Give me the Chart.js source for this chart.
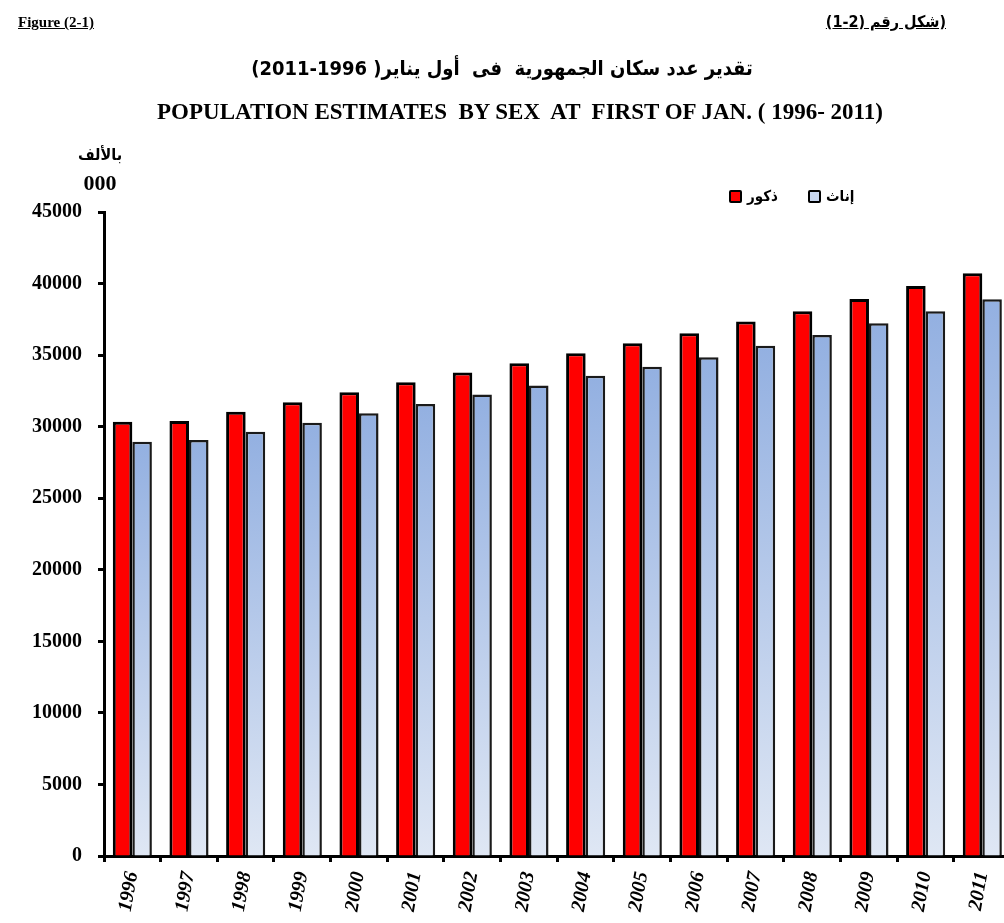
<!DOCTYPE html>
<html>
<head>
<meta charset="utf-8">
<script src="https://cdn.jsdelivr.net/npm/chart.js@4.4.1/dist/chart.umd.min.js"></script>
<style>
  html, body { margin: 0; padding: 0; background: #fff; overflow: hidden; width: 1004px; height: 923px; }
  #wrap { position: relative; width: 1004px; height: 923px; overflow: hidden; }
  canvas { position: absolute; left: 0; top: 0; }
  .t { position: absolute; white-space: pre; color: #000; font-weight: bold; }
  .serif { font-family: "Liberation Serif", "Times New Roman", serif; }
  .ar { font-family: "DejaVu Sans Condensed", "DejaVu Sans", sans-serif; }
  .lg { position: absolute; display: flex; align-items: center; }
  .box { width: 9px; height: 9px; border: 2px solid #000; border-radius: 2px; margin-right: 5px; }
</style>
</head>
<body>
<div id="wrap">
  <canvas id="c" width="1014" height="923"></canvas>
  <div class="t serif" id="figEn" style="left:18px; top:14px; font-size:15px; text-decoration: underline;">Figure (2-1)</div>
  <div class="t ar" id="figAr" dir="rtl" style="right:58px; top:12px; font-size:16px; text-decoration: underline;">(شكل رقم (2-1)</div>
  <div class="t ar" id="titleAr" dir="rtl" style="left:0; width:1004px; text-align:center; top:56px; font-size:20px;">تقدير عدد سكان الجمهورية  فى  أول يناير( 1996-2011)</div>
  <div class="t serif" id="titleEn" style="left:0; width:1040px; text-align:center; top:99px; font-size:23px;">POPULATION ESTIMATES  BY SEX  AT  FIRST OF JAN. ( 1996- 2011)</div>
  <div class="t ar" id="unitAr" dir="rtl" style="left:70px; width:60px; text-align:center; top:145px; font-size:16px;">بالألف</div>
  <div class="t serif" id="unitEn" style="left:70px; width:60px; text-align:center; top:170px; font-size:22px;">000</div>
  <div id="legend"></div>
</div>
<script>
const years = ['1996','1997','1998','1999','2000','2001','2002','2003','2004','2005','2006','2007','2008','2009','2010','2011'];
const males = [30350, 30400, 31050, 31700, 32400, 33100, 33780, 34430, 35130, 35830, 36520, 37340, 38060, 38920, 39830, 40720];
const females = [28950, 29070, 29650, 30280, 30940, 31590, 32240, 32870, 33560, 34190, 34850, 35660, 36410, 37220, 38060, 38900];
const seriesNames = ['ذكور', 'إناث'];
const yTicks = [0, 5000, 10000, 15000, 20000, 25000, 30000, 35000, 40000, 45000];

const maleColor = '#ff0000';
const femaleTop = '#93b0e1';
const femaleBottom = '#dfe7f4';

function femaleFill(ctx) {
  const chart = ctx.chart;
  if (!chart.chartArea || ctx.type !== 'data') return femaleTop;
  const ys = chart.scales.y;
  const top = ys.getPixelForValue(ctx.raw);
  const bottom = ys.getPixelForValue(0);
  const g = chart.ctx.createLinearGradient(0, top, 0, bottom);
  g.addColorStop(0, femaleTop);
  g.addColorStop(1, femaleBottom);
  return g;
}

// legend (HTML, built from dataset names)
const legendPos = [{x: 729, y: 187}, {x: 808, y: 187}];
const legendFill = [maleColor, '#c7d6ef'];
const legendEl = document.getElementById('legend');
seriesNames.forEach((n, i) => {
  const d = document.createElement('div');
  d.className = 'lg';
  d.style.left = legendPos[i].x + 'px';
  d.style.top = legendPos[i].y + 'px';
  d.innerHTML = '<div class="box" style="background:' + legendFill[i] + '"></div>' +
    '<span class="ar" style="font-weight:bold;font-size:15px;" dir="rtl">' + n + '</span>';
  legendEl.appendChild(d);
});

new Chart(document.getElementById('c'), {
  type: 'bar',
  data: {
    labels: years,
    datasets: [
      { label: seriesNames[0], data: males, backgroundColor: maleColor, borderColor: '#000', borderWidth: 3,
        categoryPercentage: 0.69, barPercentage: 1.0 },
      { label: seriesNames[1], data: females, backgroundColor: femaleFill, borderColor: '#1a1a1a', borderWidth: 2.5,
        categoryPercentage: 0.69, barPercentage: 1.0 }
    ]
  },
  options: {
    responsive: false,
    animation: false,
    devicePixelRatio: 1,
    layout: { padding: { top: 212, left: 0, right: 2, bottom: 0 } },
    plugins: { legend: { display: false }, tooltip: { enabled: false }, title: { display: false } },
    scales: {
      x: {
        grid: { display: true, drawOnChartArea: false, drawTicks: true, tickLength: 6, tickWidth: 3, color: '#000', offset: true },
        border: { display: true, color: '#000', width: 3 },
        ticks: {
          color: '#000', minRotation: 80, maxRotation: 80, autoSkip: false, padding: 8,
          font: { family: '"Liberation Serif", "Times New Roman", serif', size: 20, weight: 'bold', style: 'italic' }
        },
        afterFit: (s) => { s.height = 67; }
      },
      y: {
        min: 0, max: 45000,
        afterBuildTicks: (s) => { s.ticks = yTicks.map(v => ({ value: v })); },
        grid: { display: true, drawOnChartArea: false, drawTicks: true, tickLength: 6, tickWidth: 3, color: '#000' },
        border: { display: true, color: '#000', width: 3 },
        ticks: {
          color: '#000', padding: 16,
          callback: (v) => String(v),
          font: { family: '"Liberation Serif", "Times New Roman", serif', size: 20, weight: 'bold' }
        },
        afterFit: (s) => { s.width = 104; }
      }
    }
  }
});
</script>
</body>
</html>
